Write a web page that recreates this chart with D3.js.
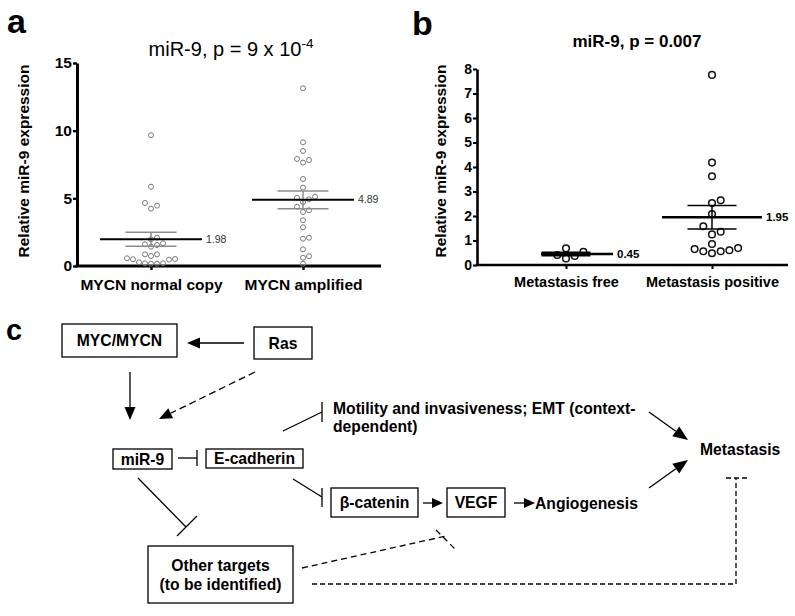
<!DOCTYPE html>
<html><head><meta charset="utf-8">
<script src="https://cdn.jsdelivr.net/npm/d3@7"></script>
<style>body{margin:0;background:#fff}svg{display:block;font-family:"Liberation Sans",Arial,Helvetica,sans-serif}</style>
</head><body><svg id="c" width="795" height="616"></svg>
<script>
// ---------- DATA ----------
const aCats = ["MYCN normal copy", "MYCN amplified"];
const aNormal = [9.66, 5.86, 4.66, 4.46, 4.24, 2.09, 1.97, 1.68, 1.55, 1.6, 1.43, 0.86, 0.74, 0.86, 0.57, 0.5, 0.2, 0.17, 0.17, 0.2, 0.27, 0.47, 0.52];
const aAmplified = [13.13, 9.14, 8.5, 7.91, 7.64, 7.83, 6.43, 5.79, 5.12, 4.93, 5.03, 4.73, 4.38, 3.99, 4.12, 3.38, 2.86, 2.09, 2.02, 1.23, 0.72, 0.61, 0.17];
const aMeans = [1.98, 4.89];
const aSEM = [0.52, 0.66];
const aTicks = [0, 5, 10, 15];

const bCats = ["Metastasis free", "Metastasis positive"];
const bFree = [0.68, 0.41, 0.27, 0.37, 0.54];
const bPositive = [7.76, 4.18, 3.62, 2.53, 2.64, 2.08, 1.58, 1.25, 1.36, 0.86, 0.65, 0.56, 0.48, 0.56, 0.6, 0.69];
const bMeans = [0.45, 1.95];
const bSEM = [0.07, 0.48];
const bTicks = [0, 1, 2, 3, 4, 5, 6, 7, 8];

// ---------- DRAW ----------
const svg = d3.select("#c");

function swarm(vals, y, step, diam) {
  const pts = vals.map(v => ({v, y: y(v)})).sort((a, b) => a.v - b.v);
  const placed = [];
  pts.forEach(p => {
    for (let k = 0; k < 40; k++) {
      const off = k === 0 ? 0 : (k % 2 ? 1 : -1) * Math.ceil(k / 2);
      const x = off * step;
      if (placed.every(q => (q.dx - x) ** 2 + (q.y - p.y) ** 2 >= diam * diam)) {
        p.dx = x; placed.push(p); break;
      }
    }
  });
  return placed;
}

function panel(cfg) {
  const g = svg.append("g");
  const y = d3.scaleLinear().domain([0, cfg.max]).range([cfg.yBottom, cfg.yTop]);
  const x = d3.scalePoint().domain(cfg.cats).range(cfg.catX);

  const ya = g.append("g").attr("transform", `translate(${cfg.xLeft},0)`)
    .call(d3.axisLeft(y).tickValues(cfg.ticks).tickSize(cfg.tickLen).tickSizeOuter(0).tickPadding(1));
  ya.select(".domain").attr("stroke", "#000").attr("stroke-width", cfg.axisW);
  ya.selectAll(".tick line").attr("stroke", "#000").attr("stroke-width", cfg.axisW * 0.8);
  ya.selectAll(".tick text").attr("fill", "#000").style("font-size", cfg.tickFont + "px")
    .style("font-weight", "bold").style("font-family", "Liberation Sans, Arial, sans-serif");

  const xa = g.append("g").attr("transform", `translate(0,${cfg.yBottom})`)
    .call(d3.axisBottom(x).tickSize(cfg.tickLen).tickPadding(cfg.xPad));
  xa.select(".domain").remove();
  xa.selectAll(".tick line").attr("stroke", "#000").attr("stroke-width", cfg.axisW * 0.8);
  xa.selectAll(".tick text").attr("fill", "#000").style("font-size", cfg.catFont + "px")
    .style("font-weight", "bold").style("font-family", "Liberation Sans, Arial, sans-serif");
  g.append("line").attr("x1", cfg.xLeft - cfg.axisW / 2).attr("x2", cfg.xRight)
    .attr("y1", cfg.yBottom).attr("y2", cfg.yBottom).attr("stroke", "#000").attr("stroke-width", cfg.axisW);

  cfg.groups.forEach((vals, i) => {
    const cx = x(cfg.cats[i]);
    const pts = swarm(vals, y, cfg.step, cfg.step * 0.98);
    g.selectAll(null).data(pts).enter().append("circle")
      .attr("cx", d => cx + d.dx).attr("cy", d => d.y).attr("r", cfg.r)
      .attr("fill", "none").attr("stroke", cfg.dotColor).attr("stroke-width", cfg.dotW);
    const m = cfg.means[i], s = cfg.sem[i];
    [m + s, m - s].forEach(v => g.append("line").attr("x1", cx - cfg.semHalf).attr("x2", cx + cfg.semHalf)
      .attr("y1", y(v)).attr("y2", y(v)).attr("stroke", cfg.semColor).attr("stroke-width", cfg.semW));
    g.append("line").attr("x1", cx).attr("x2", cx).attr("y1", y(m + s)).attr("y2", y(m - s))
      .attr("stroke", cfg.semColor).attr("stroke-width", cfg.semW);
    const mh = cfg.meanHalf[i];
    g.append("line").attr("x1", cx - mh[0]).attr("x2", cx + mh[1])
      .attr("y1", y(m)).attr("y2", y(m)).attr("stroke", "#000").attr("stroke-width", cfg.meanW);
    g.append("text").attr("x", cx + mh[1] + 4).attr("y", y(m)).attr("dy", "0.35em")
      .style("font-size", cfg.meanFont + "px").style("font-weight", cfg.meanBold ? "bold" : "normal")
      .attr("fill", cfg.meanBold ? "#000" : "#333").text(m.toFixed(2));
  });

  g.append("text").attr("transform", `translate(${cfg.ylabX},${cfg.ylabY}) rotate(-90)`)
    .attr("text-anchor", "middle").style("font-size", "15.5px").style("font-weight", "bold")
    .text("Relative miR-9 expression");
  return g;
}

panel({
  cats: aCats, groups: [aNormal, aAmplified], means: aMeans, sem: aSEM, ticks: aTicks, max: 15,
  yBottom: 266, yTop: 63, xLeft: 77, xRight: 381, catX: [151, 303],
  axisW: 3, tickLen: 4, tickFont: 15.5, catFont: 15.5, xPad: 9,
  step: 6, r: 2.5, dotColor: "#7a7a7a", dotW: 1,
  semHalf: 25.5, semColor: "#8c8c8c", semW: 1.5, meanHalf: [[51, 51], [51, 51]], meanW: 2,
  meanFont: 10.5, meanBold: false, ylabX: 29, ylabY: 161
});

panel({
  cats: bCats, groups: [bFree, bPositive], means: bMeans, sem: bSEM, ticks: bTicks, max: 8,
  yBottom: 265, yTop: 69, xLeft: 477, xRight: 788, catX: [566, 712],
  axisW: 2.6, tickLen: 4, tickFont: 14, catFont: 14.5, xPad: 8,
  step: 8.7, r: 3.3, dotColor: "#111", dotW: 1.5,
  semHalf: 24.5, semColor: "#000", semW: 1.5, meanHalf: [[25, 47], [50, 50]], meanW: 2.5,
  meanFont: 11.5, meanBold: true, ylabX: 446, ylabY: 161
});

const t1 = svg.append("text").attr("x", 231).attr("y", 56).attr("text-anchor", "middle").style("font-size", "20px");
t1.append("tspan").text("miR-9, p = 9 x 10");
t1.append("tspan").attr("dy", -8).style("font-size", "13.5px").text("-4");
svg.append("text").attr("x", 637).attr("y", 47).attr("text-anchor", "middle")
  .style("font-size", "17px").style("font-weight", "bold").text("miR-9, p = 0.007");

[["a", 7, 33, 34], ["b", 412, 35, 34], ["c", 6, 340, 29]].forEach(([t, xx, yy, fs]) =>
  svg.append("text").attr("x", xx).attr("y", yy).style("font-size", fs + "px").style("font-weight", "bold").text(t));

// ---------- DIAGRAM (panel c) ----------
const dg = svg.append("g").style("font-size", "15.7px").style("font-weight", "bold");
const boxes = [
  {lines: ["MYC/MYCN"], x: 62, y: 324, w: 115, h: 33},
  {lines: ["Ras"], x: 254, y: 327, w: 58, h: 32},
  {lines: ["miR-9"], x: 113, y: 449, w: 59, h: 20},
  {lines: ["E-cadherin"], x: 206, y: 449, w: 97, h: 19},
  {lines: ["β-catenin"], x: 331, y: 488, w: 87, h: 29},
  {lines: ["VEGF"], x: 447, y: 488, w: 58, h: 29},
  {lines: ["Other targets", "(to be identified)"], x: 148, y: 546, w: 145, h: 57}
];
boxes.forEach(b => {
  dg.append("rect").attr("x", b.x).attr("y", b.y).attr("width", b.w).attr("height", b.h)
    .attr("fill", "none").attr("stroke", "#000").attr("stroke-width", 1.3);
  const n = b.lines.length, lh = 19;
  b.lines.forEach((t, i) => dg.append("text").attr("x", b.x + b.w / 2)
    .attr("y", b.y + b.h / 2 + (i - (n - 1) / 2) * lh).attr("dy", "0.36em")
    .attr("text-anchor", "middle").text(t));
});
const freeTexts = [
  {t: "Motility and invasiveness; EMT (context-", x: 333, y: 408},
  {t: "dependent)", x: 333, y: 426},
  {t: "Angiogenesis", x: 535, y: 503},
  {t: "Metastasis", x: 700, y: 449}
];
freeTexts.forEach(d => dg.append("text").attr("x", d.x).attr("y", d.y).attr("dy", "0.36em").text(d.t));

function seg(x1, y1, x2, y2, dash) {
  dg.append("line").attr("x1", x1).attr("y1", y1).attr("x2", x2).attr("y2", y2)
    .attr("stroke", "#000").attr("stroke-width", 1.3).attr("stroke-dasharray", dash || null);
}
function arrow(x1, y1, x2, y2, dash, len = 13, wid = 11) {
  const a = Math.atan2(y2 - y1, x2 - x1), c = Math.cos(a), s = Math.sin(a);
  const bx = x2 - len * c, by = y2 - len * s;
  seg(x1, y1, bx, by, dash);
  dg.append("polygon").attr("points",
    [[x2, y2], [bx - wid / 2 * s, by + wid / 2 * c], [bx + wid / 2 * s, by - wid / 2 * c]].map(p => p.join(",")).join(" "))
    .attr("fill", "#000");
}
function inhibit(x1, y1, x2, y2, bar, dash) {
  seg(x1, y1, x2, y2, dash);
  seg(bar[0], bar[1], bar[2], bar[3], dash);
}
arrow(244, 343, 187, 343);
arrow(130, 372, 130, 420);
arrow(255, 372, 159, 419, "7,4");
inhibit(178, 458, 197, 458, [197, 450, 197, 466]);
inhibit(283, 431, 322, 412, [322, 402, 322, 422]);
inhibit(293, 479, 322, 497, [322, 488, 322, 507]);
inhibit(138, 478, 186, 527, [177, 536, 197, 516]);
inhibit(302, 568, 446, 536, [436, 530, 457, 551], "6,4");
arrow(423, 503, 443, 503, null, 11, 10);
arrow(514, 503, 535, 503, null, 11, 10);
arrow(649, 412, 688, 440, null, 15, 12);
arrow(649, 488, 688, 460, null, 15, 12);
seg(312, 584, 736, 584, "5,3");
seg(736, 584, 736, 478, "5,3");
seg(726, 478, 747, 478, "5,3");
</script></body></html>
